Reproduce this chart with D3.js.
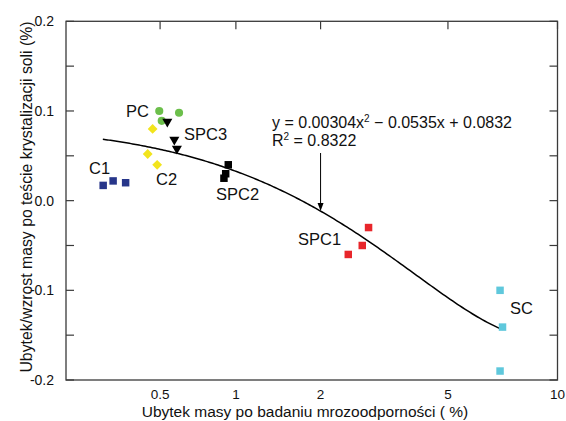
<!DOCTYPE html>
<html>
<head>
<meta charset="utf-8">
<script src="https://cdn.jsdelivr.net/npm/d3@7"></script>
<style>
  html, body { margin: 0; padding: 0; background: #fff; }
  svg text { font-family: "Liberation Sans", Arial, sans-serif; fill: #111; }
</style>
</head>
<body>
<svg id="chart" width="566" height="421"></svg>
<script>
// Mass loss after frost test (x, %) vs. mass change after salt crystallisation test (y, %)
const groupNames = ["C1", "C2", "PC", "SPC3", "SPC2", "SPC1", "SC"];
const c1X   = [0.281, 0.312, 0.355];  const c1Y   = [0.017, 0.022, 0.020];
const c2X   = [0.443, 0.486, 0.465];  const c2Y   = [0.052, 0.040, 0.080];
const pcX   = [0.496, 0.599, 0.508];  const pcY   = [0.100, 0.098, 0.089];
const spc3X = [0.536, 0.573, 0.587];  const spc3Y = [0.088, 0.068, 0.058];
const spc2X = [0.936, 0.915, 0.901];  const spc2Y = [0.040, 0.030, 0.025];
const spc1X = [2.87, 2.74, 2.47];     const spc1Y = [-0.030, -0.050, -0.060];
const scX   = [7.02, 7.13, 7.02];     const scY   = [-0.100, -0.141, -0.190];

// Quadratic trend y = a x^2 + b x + c
const fitCoef = [0.00304, -0.0535, 0.0832];
const fitR2 = "0.8322";
const fitRange = [0.28, 7.13];
const arrowAtX = 2;

const xTicks = [0.5, 1, 2, 5, 10];
const xTickLabels = ["0.5", "1", "2", "5", "10"];
const yTicks = [-0.2, -0.15, -0.1, -0.05, 0, 0.05, 0.1, 0.15, 0.2];
const yTickLabels = ["-0.2", "-0.1", "0.0", "0.1", "0.2"];
const yLabelValues = [-0.2, -0.1, 0, 0.1, 0.2];

const xTitle = "Ubytek masy po badaniu mrozoodporności ( %)";
const yTitle = "Ubytek/wzrost masy po teście krystalizacji soli (%)";

const svg = d3.select("#chart");
const L = 66, T = 21.3, R = 557.5, B = 380;

const x = d3.scalePow().exponent(0.16).domain([0.187, 10]).range([L, R]);
const y = d3.scaleLinear().domain([-0.2, 0.2]).range([B, T]);
const fit = v => fitCoef[0] * v * v + fitCoef[1] * v + fitCoef[2];

const frameColor = "#3a3a3a";
const tickLen = 8;

// Inward ticks: left/right every 0.05, top at labelled x values
const ticks = svg.append("g").attr("stroke", frameColor).attr("stroke-width", 1.2);
yTicks.forEach(v => {
  ticks.append("line").attr("x1", L).attr("x2", L + tickLen).attr("y1", y(v)).attr("y2", y(v));
  ticks.append("line").attr("x1", R).attr("x2", R - tickLen).attr("y1", y(v)).attr("y2", y(v));
});
xTicks.forEach(v => {
  ticks.append("line").attr("x1", x(v)).attr("x2", x(v)).attr("y1", T).attr("y2", T + tickLen);
});

// Frame
svg.append("rect").attr("x", L).attr("y", T).attr("width", R - L).attr("height", B - T)
  .attr("fill", "none").attr("stroke", frameColor).attr("stroke-width", 1.3);

// Tick labels
svg.append("g").selectAll("text").data(yLabelValues).join("text")
  .attr("x", 54).attr("y", d => y(d)).attr("dy", "0.35em")
  .attr("text-anchor", "end").attr("font-size", 14)
  .text((d, i) => yTickLabels[i]);
svg.append("g").selectAll("text").data(xTicks).join("text")
  .attr("x", d => x(d)).attr("y", 399)
  .attr("text-anchor", "middle").attr("font-size", 13.5)
  .text((d, i) => xTickLabels[i]);

// Axis titles
svg.append("text").attr("x", 305).attr("y", 417)
  .attr("text-anchor", "middle").attr("font-size", 15.5).text(xTitle);
svg.append("text").attr("transform", "translate(32,197) rotate(-90)")
  .attr("text-anchor", "middle").attr("font-size", 15.8).text(yTitle);

// Trend curve
const curvePts = d3.range(0, 201).map(i => {
  const v = fitRange[0] * Math.pow(fitRange[1] / fitRange[0], i / 200);
  return [v, fit(v)];
});
svg.append("path").datum(curvePts)
  .attr("fill", "none").attr("stroke", "#000").attr("stroke-width", 1.5)
  .attr("d", d3.line().x(d => x(d[0])).y(d => y(d[1])));

// Markers
const groups = [
  { xs: c1X,   ys: c1Y,   color: "#27368a", shape: d3.symbolSquare,   size: 56, rot: 0 },
  { xs: c2X,   ys: c2Y,   color: "#f2e41c", shape: d3.symbolSquare,   size: 48, rot: 45 },
  { xs: pcX,   ys: pcY,   color: "#6cbf4b", shape: d3.symbolCircle,   size: 52, rot: 0 },
  { xs: spc3X, ys: spc3Y, color: "#000000", shape: d3.symbolTriangle, size: 44, rot: 180 },
  { xs: spc2X, ys: spc2Y, color: "#000000", shape: d3.symbolSquare,   size: 56, rot: 0 },
  { xs: spc1X, ys: spc1Y, color: "#e8262b", shape: d3.symbolSquare,   size: 56, rot: 0 },
  { xs: scX,   ys: scY,   color: "#5fc8dc", shape: d3.symbolSquare,   size: 56, rot: 0 }
];
groups.forEach(g => {
  const pts = g.xs.map((v, i) => [v, g.ys[i]]);
  svg.append("g").selectAll("path").data(pts).join("path")
    .attr("d", d3.symbol().type(g.shape).size(g.size))
    .attr("transform", d => `translate(${x(d[0])},${y(d[1])}) rotate(${g.rot})`)
    .attr("fill", g.color);
});

// Group labels (left x, baseline y)
const labelPos = {
  C1: [89, 173.5], C2: [156, 185], PC: [126, 116.5], SPC3: [184, 140],
  SPC2: [216, 200], SPC1: [298, 245], SC: [510, 313.5]
};
groupNames.forEach(n => {
  svg.append("text").attr("x", labelPos[n][0]).attr("y", labelPos[n][1])
    .attr("font-size", 16.5).text(n);
});

// Equation and R²
const eq = svg.append("text").attr("x", 272).attr("y", 128).attr("font-size", 16);
eq.append("tspan").text("y = " + fitCoef[0] + "x");
eq.append("tspan").attr("dy", -6).attr("font-size", 10).text("2");
eq.append("tspan").attr("dy", 6).text(" − " + Math.abs(fitCoef[1]) + "x + " + fitCoef[2]);
const r2 = svg.append("text").attr("x", 272).attr("y", 146).attr("font-size", 16);
r2.append("tspan").text("R");
r2.append("tspan").attr("dy", -6).attr("font-size", 10).text("2");
r2.append("tspan").attr("dy", 6).text(" = " + fitR2);

// Arrow pointing to the curve
const ax = x(arrowAtX), ay = y(fit(arrowAtX));
svg.append("line").attr("x1", ax).attr("x2", ax).attr("y1", 153).attr("y2", ay - 6)
  .attr("stroke", "#000").attr("stroke-width", 1);
svg.append("path")
  .attr("d", `M${ax},${ay} L${ax - 3},${ay - 8} L${ax + 3},${ay - 8} Z`)
  .attr("fill", "#000");
</script>
</body>
</html>
